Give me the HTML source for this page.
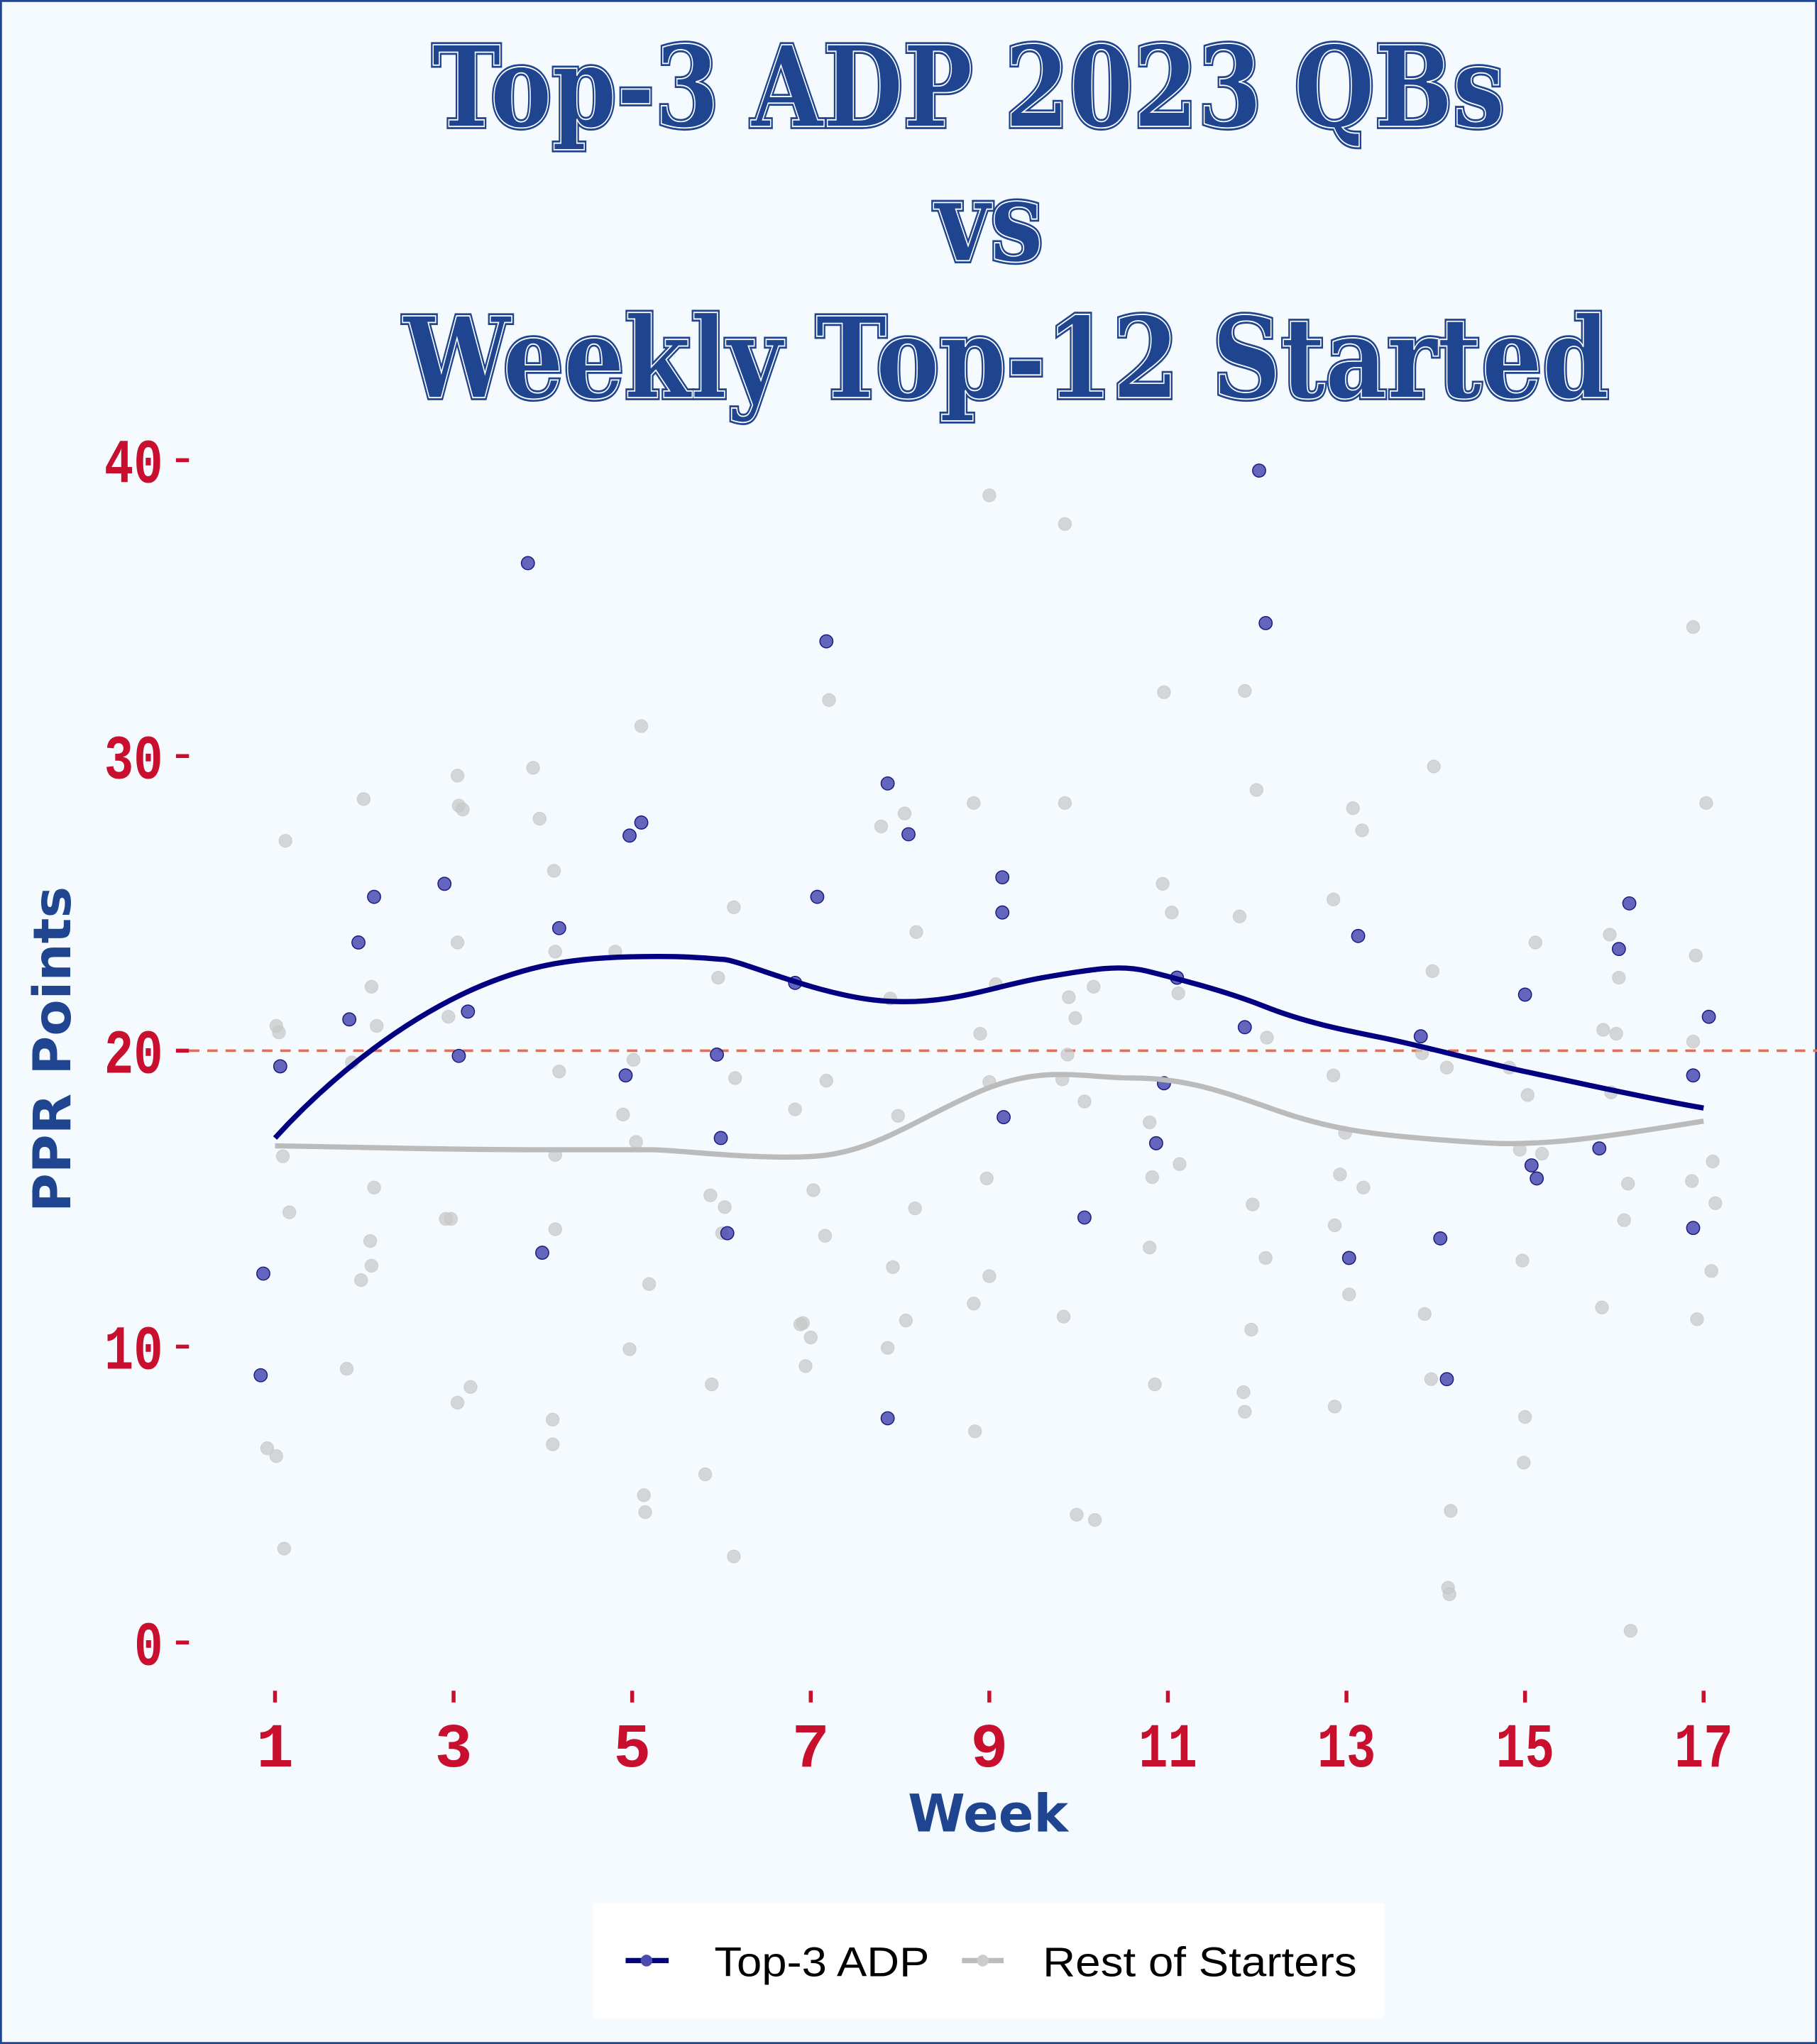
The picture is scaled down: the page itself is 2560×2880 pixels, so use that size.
<!DOCTYPE html>
<html><head><meta charset="utf-8"><style>html,body{margin:0;padding:0;background:#f5faff}svg{display:block}</style></head>
<body>
<svg width="2560" height="2880" viewBox="0 0 1394 1568" preserveAspectRatio="none" xmlns="http://www.w3.org/2000/svg">
<defs>
<pattern id="stripe" patternUnits="userSpaceOnUse" width="10" height="5.3" y="337">
<rect x="0" y="0" width="10" height="3.7" fill="#c8102e"/>
</pattern>
<pattern id="stripe2" patternUnits="userSpaceOnUse" width="10" height="5.3" y="1318">
<rect x="0" y="0" width="10" height="3.7" fill="#c8102e"/>
</pattern>
</defs>
<rect x="0.75" y="0.75" width="1392.5" height="1566.5" fill="#f5faff" stroke="#1f4590" stroke-width="1.5"/>
<g font-family="'DejaVu Serif','Liberation Serif',serif" font-weight="bold" text-anchor="middle" fill="#1f4590">
 <g stroke="#1f4590" stroke-width="4">
  <text x="743" y="97" font-size="86" textLength="823" lengthAdjust="spacingAndGlyphs">Top-3 ADP 2023 QBs</text>
  <text x="759" y="200" font-size="86" textLength="83" lengthAdjust="spacingAndGlyphs">vs</text>
  <text x="772" y="305" font-size="86" textLength="925" lengthAdjust="spacingAndGlyphs">Weekly Top-12 Started</text>
 </g>
 <g stroke="#ffffff" stroke-width="1">
  <text x="743" y="97" font-size="86" textLength="823" lengthAdjust="spacingAndGlyphs">Top-3 ADP 2023 QBs</text>
  <text x="759" y="200" font-size="86" textLength="83" lengthAdjust="spacingAndGlyphs">vs</text>
  <text x="772" y="305" font-size="86" textLength="925" lengthAdjust="spacingAndGlyphs">Weekly Top-12 Started</text>
 </g>
</g>
<line x1="145" y1="806" x2="1394" y2="806" stroke="#f06a50" stroke-width="2" stroke-dasharray="8,6"/>
<g font-family="'Liberation Mono',monospace" font-weight="bold" font-size="48">
 <g text-anchor="end" fill="#c8102e">
  <text x="125" y="370" textLength="45" lengthAdjust="spacingAndGlyphs">40</text>
  <text x="125" y="597" textLength="45" lengthAdjust="spacingAndGlyphs">30</text>
  <text x="125" y="823" textLength="45" lengthAdjust="spacingAndGlyphs">20</text>
  <text x="125" y="1050" textLength="45" lengthAdjust="spacingAndGlyphs">10</text>
  <text x="125" y="1277" textLength="22" lengthAdjust="spacingAndGlyphs">0</text>
 </g>
 <g text-anchor="middle" fill="#c8102e">
  <text x="211" y="1355">1</text><text x="348" y="1355">3</text><text x="485" y="1355">5</text><text x="622" y="1355">7</text><text x="759" y="1355">9</text>
  <text x="896" y="1355" textLength="45" lengthAdjust="spacingAndGlyphs">11</text><text x="1033" y="1355" textLength="45" lengthAdjust="spacingAndGlyphs">13</text><text x="1170" y="1355" textLength="45" lengthAdjust="spacingAndGlyphs">15</text><text x="1307" y="1355" textLength="45" lengthAdjust="spacingAndGlyphs">17</text>
 </g>
</g>
<g stroke="#c8102e" stroke-width="3">
 <line x1="135" y1="353" x2="145" y2="353"/><line x1="135" y1="580" x2="145" y2="580"/><line x1="135" y1="806" x2="145" y2="806"/><line x1="135" y1="1033" x2="145" y2="1033"/><line x1="135" y1="1260" x2="145" y2="1260"/>
 <line x1="211" y1="1297" x2="211" y2="1306"/><line x1="348" y1="1297" x2="348" y2="1306"/><line x1="485" y1="1297" x2="485" y2="1306"/><line x1="622" y1="1297" x2="622" y2="1306"/><line x1="759" y1="1297" x2="759" y2="1306"/><line x1="896" y1="1297" x2="896" y2="1306"/><line x1="1033" y1="1297" x2="1033" y2="1306"/><line x1="1170" y1="1297" x2="1170" y2="1306"/><line x1="1307" y1="1297" x2="1307" y2="1306"/>
</g>
<g fill="#1f4590" font-family="'DejaVu Sans','Liberation Sans',sans-serif" font-weight="bold" font-size="40" text-anchor="middle">
 <text transform="translate(54,805) rotate(-90)" textLength="250" lengthAdjust="spacingAndGlyphs">PPR Points</text>
 <text x="758" y="1405" textLength="123" lengthAdjust="spacingAndGlyphs">Week</text>
</g>
<g fill="#c8c8c8" fill-opacity="0.75" stroke="#bbbbbb" stroke-opacity="0.5" stroke-width="0.6">
<circle cx="219" cy="645" r="5"/><circle cx="212" cy="787" r="5"/><circle cx="214" cy="792" r="5"/><circle cx="217" cy="887" r="5"/><circle cx="222" cy="930" r="5"/><circle cx="205" cy="1111" r="5"/><circle cx="212" cy="1117" r="5"/><circle cx="218" cy="1188" r="5"/><circle cx="266" cy="1050" r="5"/><circle cx="279" cy="613" r="5"/><circle cx="285" cy="757" r="5"/><circle cx="287" cy="911" r="5"/><circle cx="284" cy="952" r="5"/><circle cx="285" cy="971" r="5"/><circle cx="277" cy="982" r="5"/><circle cx="289" cy="787" r="5"/><circle cx="270" cy="815" r="5"/><circle cx="344" cy="780" r="5"/><circle cx="351" cy="595" r="5"/><circle cx="352" cy="618" r="5"/><circle cx="355" cy="621" r="5"/><circle cx="351" cy="723" r="5"/><circle cx="346" cy="935" r="5"/><circle cx="342" cy="935" r="5"/><circle cx="351" cy="1076" r="5"/><circle cx="361" cy="1064" r="5"/><circle cx="409" cy="589" r="5"/><circle cx="414" cy="628" r="5"/><circle cx="425" cy="668" r="5"/><circle cx="426" cy="730" r="5"/><circle cx="429" cy="822" r="5"/><circle cx="426" cy="886" r="5"/><circle cx="426" cy="943" r="5"/><circle cx="424" cy="1089" r="5"/><circle cx="424" cy="1108" r="5"/><circle cx="472" cy="730" r="5"/><circle cx="492" cy="557" r="5"/><circle cx="486" cy="813" r="5"/><circle cx="478" cy="855" r="5"/><circle cx="488" cy="876" r="5"/><circle cx="498" cy="985" r="5"/><circle cx="483" cy="1035" r="5"/><circle cx="494" cy="1147" r="5"/><circle cx="495" cy="1160" r="5"/><circle cx="551" cy="750" r="5"/><circle cx="563" cy="696" r="5"/><circle cx="564" cy="827" r="5"/><circle cx="545" cy="917" r="5"/><circle cx="556" cy="926" r="5"/><circle cx="554" cy="946" r="5"/><circle cx="546" cy="1062" r="5"/><circle cx="541" cy="1131" r="5"/><circle cx="563" cy="1194" r="5"/><circle cx="636" cy="537" r="5"/><circle cx="634" cy="829" r="5"/><circle cx="633" cy="948" r="5"/><circle cx="610" cy="851" r="5"/><circle cx="624" cy="913" r="5"/><circle cx="616" cy="1015" r="5"/><circle cx="614" cy="1016" r="5"/><circle cx="622" cy="1026" r="5"/><circle cx="618" cy="1048" r="5"/><circle cx="676" cy="634" r="5"/><circle cx="694" cy="624" r="5"/><circle cx="703" cy="715" r="5"/><circle cx="683" cy="766" r="5"/><circle cx="689" cy="856" r="5"/><circle cx="702" cy="927" r="5"/><circle cx="685" cy="972" r="5"/><circle cx="695" cy="1013" r="5"/><circle cx="681" cy="1034" r="5"/><circle cx="759" cy="380" r="5"/><circle cx="747" cy="616" r="5"/><circle cx="752" cy="793" r="5"/><circle cx="764" cy="755" r="5"/><circle cx="759" cy="830" r="5"/><circle cx="757" cy="904" r="5"/><circle cx="759" cy="979" r="5"/><circle cx="747" cy="1000" r="5"/><circle cx="748" cy="1098" r="5"/><circle cx="817" cy="402" r="5"/><circle cx="817" cy="616" r="5"/><circle cx="820" cy="765" r="5"/><circle cx="825" cy="781" r="5"/><circle cx="839" cy="757" r="5"/><circle cx="819" cy="809" r="5"/><circle cx="815" cy="828" r="5"/><circle cx="832" cy="845" r="5"/><circle cx="816" cy="1010" r="5"/><circle cx="826" cy="1162" r="5"/><circle cx="840" cy="1166" r="5"/><circle cx="893" cy="531" r="5"/><circle cx="892" cy="678" r="5"/><circle cx="899" cy="700" r="5"/><circle cx="904" cy="762" r="5"/><circle cx="882" cy="861" r="5"/><circle cx="905" cy="893" r="5"/><circle cx="884" cy="903" r="5"/><circle cx="882" cy="957" r="5"/><circle cx="886" cy="1062" r="5"/><circle cx="955" cy="530" r="5"/><circle cx="964" cy="606" r="5"/><circle cx="951" cy="703" r="5"/><circle cx="972" cy="796" r="5"/><circle cx="961" cy="924" r="5"/><circle cx="971" cy="965" r="5"/><circle cx="960" cy="1020" r="5"/><circle cx="954" cy="1068" r="5"/><circle cx="955" cy="1083" r="5"/><circle cx="1023" cy="690" r="5"/><circle cx="1038" cy="620" r="5"/><circle cx="1045" cy="637" r="5"/><circle cx="1032" cy="869" r="5"/><circle cx="1023" cy="825" r="5"/><circle cx="1028" cy="901" r="5"/><circle cx="1046" cy="911" r="5"/><circle cx="1024" cy="940" r="5"/><circle cx="1035" cy="993" r="5"/><circle cx="1024" cy="1079" r="5"/><circle cx="1100" cy="588" r="5"/><circle cx="1099" cy="745" r="5"/><circle cx="1091" cy="808" r="5"/><circle cx="1110" cy="819" r="5"/><circle cx="1093" cy="1008" r="5"/><circle cx="1098" cy="1058" r="5"/><circle cx="1113" cy="1159" r="5"/><circle cx="1111" cy="1218" r="5"/><circle cx="1112" cy="1223" r="5"/><circle cx="1178" cy="723" r="5"/><circle cx="1158" cy="819" r="5"/><circle cx="1172" cy="840" r="5"/><circle cx="1166" cy="882" r="5"/><circle cx="1183" cy="885" r="5"/><circle cx="1168" cy="967" r="5"/><circle cx="1170" cy="1087" r="5"/><circle cx="1169" cy="1122" r="5"/><circle cx="1235" cy="717" r="5"/><circle cx="1242" cy="750" r="5"/><circle cx="1230" cy="790" r="5"/><circle cx="1240" cy="793" r="5"/><circle cx="1236" cy="838" r="5"/><circle cx="1249" cy="908" r="5"/><circle cx="1246" cy="936" r="5"/><circle cx="1229" cy="1003" r="5"/><circle cx="1251" cy="1251" r="5"/><circle cx="1299" cy="481" r="5"/><circle cx="1309" cy="616" r="5"/><circle cx="1301" cy="733" r="5"/><circle cx="1299" cy="799" r="5"/><circle cx="1314" cy="891" r="5"/><circle cx="1316" cy="923" r="5"/><circle cx="1298" cy="906" r="5"/><circle cx="1313" cy="975" r="5"/><circle cx="1302" cy="1012" r="5"/>
</g>
<g fill="#4a4ab0" fill-opacity="0.85" stroke="#1a1a80" stroke-width="0.8">
<circle cx="202" cy="977" r="5"/><circle cx="200" cy="1055" r="5"/><circle cx="215" cy="818" r="5"/><circle cx="268" cy="782" r="5"/><circle cx="275" cy="723" r="5"/><circle cx="287" cy="688" r="5"/><circle cx="341" cy="678" r="5"/><circle cx="352" cy="810" r="5"/><circle cx="359" cy="776" r="5"/><circle cx="405" cy="432" r="5"/><circle cx="416" cy="961" r="5"/><circle cx="429" cy="712" r="5"/><circle cx="483" cy="641" r="5"/><circle cx="492" cy="631" r="5"/><circle cx="480" cy="825" r="5"/><circle cx="550" cy="809" r="5"/><circle cx="553" cy="873" r="5"/><circle cx="558" cy="946" r="5"/><circle cx="627" cy="688" r="5"/><circle cx="634" cy="492" r="5"/><circle cx="610" cy="754" r="5"/><circle cx="681" cy="601" r="5"/><circle cx="697" cy="640" r="5"/><circle cx="681" cy="1088" r="5"/><circle cx="769" cy="673" r="5"/><circle cx="769" cy="700" r="5"/><circle cx="770" cy="857" r="5"/><circle cx="832" cy="934" r="5"/><circle cx="893" cy="831" r="5"/><circle cx="903" cy="750" r="5"/><circle cx="887" cy="877" r="5"/><circle cx="966" cy="361" r="5"/><circle cx="971" cy="478" r="5"/><circle cx="955" cy="788" r="5"/><circle cx="1042" cy="718" r="5"/><circle cx="1035" cy="965" r="5"/><circle cx="1090" cy="795" r="5"/><circle cx="1105" cy="950" r="5"/><circle cx="1110" cy="1058" r="5"/><circle cx="1170" cy="763" r="5"/><circle cx="1175" cy="894" r="5"/><circle cx="1179" cy="904" r="5"/><circle cx="1242" cy="728" r="5"/><circle cx="1250" cy="693" r="5"/><circle cx="1227" cy="881" r="5"/><circle cx="1299" cy="825" r="5"/><circle cx="1311" cy="780" r="5"/><circle cx="1299" cy="942" r="5"/>
</g>
<path d="M211,879 C280,880 340,882 410,882 S480,882 500,882 S580,890 625,887 S700,860 750,838 S830,827 870,827 S940,838 980,852 S1050,870 1100,874 S1160,878 1190,876 S1270,866 1307,860" fill="none" stroke="#bbbbbb" stroke-width="4"/>
<path d="M211,873 C250,830 300,790 350,765 S440,735 483,734 S540,735 555,736 S630,765 680,768 S760,757 800,750 S860,740 880,745 S940,760 970,772 S1030,790 1060,796 S1150,818 1170,822 S1260,842 1307,850" fill="none" stroke="#000080" stroke-width="4"/>
<rect x="455" y="1460" width="607" height="88" fill="#ffffff"/>
<line x1="480" y1="1504" x2="513" y2="1504" stroke="#000080" stroke-width="4"/>
<circle cx="496" cy="1504" r="4.5" fill="#4a4ab0"/>
<line x1="738" y1="1504" x2="770" y2="1504" stroke="#bbbbbb" stroke-width="4"/>
<circle cx="754" cy="1504" r="4.5" fill="#cccccc"/>
<g font-family="'Liberation Sans',sans-serif" font-size="32" fill="#000">
<text x="548" y="1516" textLength="165" lengthAdjust="spacingAndGlyphs">Top-3 ADP</text>
<text x="800" y="1516" textLength="241" lengthAdjust="spacingAndGlyphs">Rest of Starters</text>
</g>
</svg>
</body></html>
